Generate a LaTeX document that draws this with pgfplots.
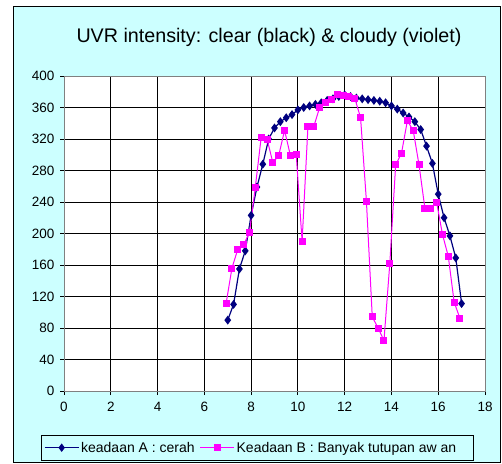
\documentclass[border=0pt]{standalone}
\usepackage{pgfplots}
\pgfplotsset{compat=1.18}
\usepackage{fontspec}
\setmainfont{Liberation Sans}

\definecolor{bgcyan}{RGB}{204,255,255}
\definecolor{navyA}{RGB}{0,0,128}
\definecolor{magB}{RGB}{255,0,255}
\definecolor{frame128}{RGB}{128,128,128}

\begin{document}
\begin{tikzpicture}
\path[use as bounding box] (0pt,0pt) rectangle (502pt,463pt);
\draw[black, line width=1pt, fill=bgcyan] (13pt,1pt) rectangle (500pt,456pt);
\node[font=\fontsize{19.7}{24}\selectfont] at (269pt,426pt) {UVR intensity: clear (black) \& cloudy (violet)};

\begin{axis}[
at={(64pt,72pt)}, anchor=south west,
scale only axis, width=421pt, height=315pt,
xmin=0, xmax=18, ymin=0, ymax=400,
xtick={0,2,...,18}, ytick={0,40,...,400},
grid=major, grid style={black, line width=0.8pt},
axis line style={frame128, line width=1pt},
axis background/.style={fill=white},
tick align=outside, major tick length=4pt,
tick style={black, line width=0.8pt},
xtick pos=bottom, ytick pos=left,
ticklabel style={font=\fontsize{13.5}{15}\selectfont},
xticklabel style={yshift=-4pt},
yticklabel style={xshift=-2pt},
/pgf/number format/assume math mode=true,
legend columns=2,
legend style={at={(-0.0546,-0.18)}, anchor=west, draw=black, fill=bgcyan,
  font=\fontsize{14}{16}\selectfont, inner xsep=3pt, inner ysep=5pt,
  /tikz/every even column/.append style={column sep=3pt}},
legend image code/.code={\draw[line width=0.9pt, mark repeat=2, mark phase=2] plot coordinates {(0pt,0pt) (17pt,0pt) (34pt,0pt)};},
]
\addplot [navyA, line width=1.2pt, mark=diamond*, mark size=3.5pt, mark options={fill=navyA, draw=navyA}]
table {%
7.00 90
7.25 110
7.50 155
7.75 178
8.00 223
8.25 259
8.50 288
8.75 320
9.00 334
9.25 342
9.50 347
9.75 351
10.00 357
10.25 360
10.50 362
10.75 364
11.00 366
11.25 369
11.50 371
11.75 374
12.00 376
12.25 374
12.50 372
12.75 371
13.00 370
13.25 369
13.50 368
13.75 366
14.00 362
14.25 358
14.50 353
14.75 348
15.00 342
15.25 332
15.50 311
15.75 289
16.00 250
16.25 220
16.50 197
16.75 169
17.00 111
};
\addlegendentry{keadaan A : cerah}
\addplot [magB, line width=1pt, mark=square*, mark size=3pt, mark options={fill=magB, draw=magB}]
table {%
6.93 111
7.18 156
7.43 180
7.68 186
7.93 201
8.18 259
8.43 322
8.68 320
8.93 290
9.18 299
9.43 331
9.68 299
9.93 300
10.18 190
10.43 336
10.68 336
10.93 360
11.18 366
11.43 370
11.68 377
11.93 375
12.18 374
12.43 372
12.68 347
12.93 241
13.18 94
13.43 80
13.68 64
13.93 162
14.18 287
14.43 302
14.68 343
14.93 331
15.18 287
15.43 232
15.68 232
15.93 240
16.18 199
16.43 171
16.68 113
16.93 92
};
\addlegendentry{Keadaan B : Banyak tutupan aw an\hspace*{12pt}}
\end{axis}
\end{tikzpicture}
\end{document}
